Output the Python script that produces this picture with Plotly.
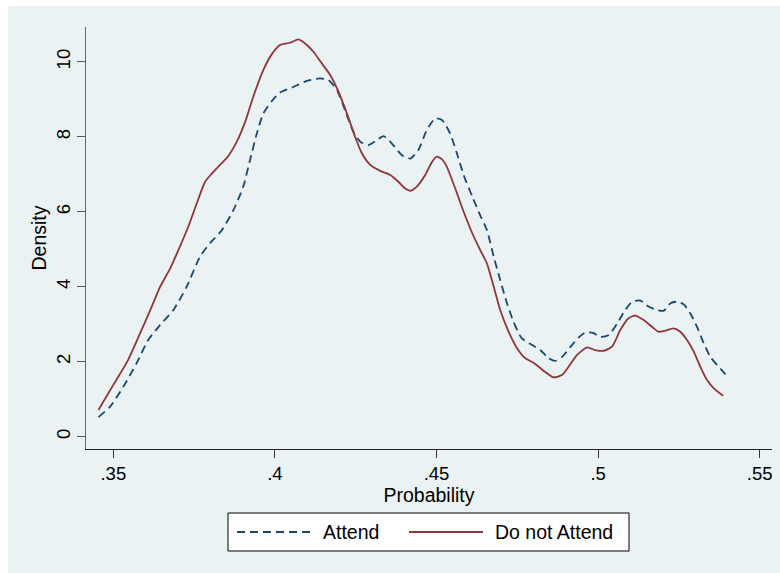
import plotly.graph_objects as go

# ---- data ----
attend_x = [0.3454, 0.3490, 0.3531, 0.3572, 0.3608, 0.3645, 0.3686, 0.3727, 0.3768, 0.3799,
            0.3836, 0.3872, 0.3902, 0.3923, 0.3944, 0.3964, 0.3990, 0.4016, 0.4057, 0.4099,
            0.4140, 0.4166, 0.4192, 0.4217, 0.4243, 0.4264, 0.4289, 0.4315, 0.4336, 0.4362,
            0.4393, 0.4419, 0.4444, 0.4470, 0.4496, 0.4517, 0.4542, 0.4563, 0.4584, 0.4611,
            0.4635, 0.4656, 0.4677, 0.4697, 0.4718, 0.4738, 0.4764, 0.4795, 0.4821, 0.4847,
            0.4868, 0.4889, 0.4915, 0.4940, 0.4961, 0.4986, 0.5007, 0.5033, 0.5059, 0.5084,
            0.5105, 0.5131, 0.5156, 0.5182, 0.5203, 0.5224, 0.5244, 0.5265, 0.5285, 0.5306,
            0.5327, 0.5347, 0.5368, 0.5399]
attend_y = [0.52, 0.80, 1.33, 1.96, 2.58, 2.98, 3.38, 4.00, 4.80, 5.16,
            5.51, 6.05, 6.67, 7.38, 8.09, 8.62, 8.95, 9.18, 9.33, 9.49,
            9.56, 9.51, 9.25, 8.71, 8.13, 7.87, 7.78, 7.91, 8.02, 7.82,
            7.51, 7.42, 7.65, 8.18, 8.49, 8.45, 8.09, 7.56, 6.98, 6.40,
            5.91, 5.51, 4.80, 4.18, 3.56, 3.07, 2.62, 2.45, 2.31, 2.09,
            2.02, 2.13, 2.40, 2.65, 2.78, 2.76, 2.66, 2.71, 3.02, 3.38,
            3.60, 3.63, 3.47, 3.38, 3.36, 3.56, 3.60, 3.53, 3.29, 2.93,
            2.49, 2.13, 1.91, 1.62]

notattend_x = [0.3454, 0.3500, 0.3546, 0.3583, 0.3619, 0.3645, 0.3676, 0.3706, 0.3732, 0.3758,
               0.3784, 0.3805, 0.3830, 0.3856, 0.3882, 0.3908, 0.3933, 0.3964, 0.3990, 0.4016,
               0.4047, 0.4073, 0.4099, 0.4119, 0.4145, 0.4171, 0.4197, 0.4223, 0.4248, 0.4269,
               0.4295, 0.4326, 0.4357, 0.4382, 0.4403, 0.4419, 0.4439, 0.4465, 0.4486, 0.4501,
               0.4517, 0.4532, 0.4558, 0.4584, 0.4611, 0.4635, 0.4656, 0.4677, 0.4697, 0.4723,
               0.4749, 0.4775, 0.4800, 0.4831, 0.4862, 0.4889, 0.4909, 0.4935, 0.4966, 0.4991,
               0.5017, 0.5043, 0.5069, 0.5094, 0.5115, 0.5141, 0.5167, 0.5187, 0.5208, 0.5234,
               0.5254, 0.5275, 0.5296, 0.5316, 0.5337, 0.5358, 0.5387]
notattend_y = [0.71, 1.38, 2.05, 2.76, 3.47, 4.00, 4.49, 5.07, 5.60, 6.22,
               6.80, 7.02, 7.25, 7.49, 7.87, 8.40, 9.07, 9.78, 10.20, 10.45,
               10.51, 10.60, 10.45, 10.27, 9.96, 9.65, 9.20, 8.62, 8.00, 7.56,
               7.25, 7.09, 6.98, 6.80, 6.62, 6.56, 6.67, 6.98, 7.33, 7.47,
               7.40, 7.20, 6.62, 6.00, 5.42, 4.98, 4.62, 4.00, 3.38, 2.80,
               2.36, 2.09, 1.97, 1.76, 1.58, 1.65, 1.87, 2.18, 2.38, 2.31,
               2.29, 2.40, 2.85, 3.16, 3.23, 3.11, 2.93, 2.80, 2.83, 2.89,
               2.80, 2.58, 2.27, 1.87, 1.51, 1.29, 1.09]

x_ticks = [0.35, 0.40, 0.45, 0.50, 0.55]
x_tick_text = [".35", ".4", ".45", ".5", ".55"]
y_ticks = [0, 2, 4, 6, 8, 10]
y_tick_text = ["0", "2", "4", "6", "8", "10"]

series_names = ["Attend", "Do not Attend"]

NAVY = "#1A476F"
MAROON = "#90353B"
BG = "#EAF2F3"
FONT = "Liberation Sans, Arial, sans-serif"

fig = go.Figure()
fig.add_trace(go.Scatter(x=attend_x, y=attend_y, mode="lines", name=series_names[0],
                         line=dict(color=NAVY, width=1.8, dash="8px,5px", shape="spline", smoothing=0.6),
                         showlegend=False))
fig.add_trace(go.Scatter(x=notattend_x, y=notattend_y, mode="lines", name=series_names[1],
                         line=dict(color=MAROON, width=1.8, shape="spline", smoothing=0.6),
                         showlegend=False))

# plot area geometry (pixels) for layout helpers
L, R, T, B = 86, 772, 27, 449
W, H = 780, 573
pw, ph = R - L, B - T


def px_x(p):
    return (p - L) / pw


def px_y(p):
    return (B - p) / ph


shapes = [
    # graph region background
    dict(type="rect", xref="paper", yref="paper", x0=px_x(8), x1=px_x(W), y0=px_y(H), y1=px_y(6),
         fillcolor=BG, line=dict(width=0), layer="below"),
    # legend box
    dict(type="rect", xref="paper", yref="paper", x0=px_x(228), x1=px_x(629), y0=px_y(551), y1=px_y(513),
         fillcolor="white", line=dict(color="black", width=1)),
    # legend samples
    dict(type="line", xref="paper", yref="paper", x0=px_x(237), x1=px_x(311), y0=px_y(532), y1=px_y(532),
         line=dict(color=NAVY, width=1.8, dash="8px,5px")),
    dict(type="line", xref="paper", yref="paper", x0=px_x(409), x1=px_x(483), y0=px_y(532), y1=px_y(532),
         line=dict(color=MAROON, width=1.8)),
]

annotations = [
    dict(text=series_names[0], xref="paper", yref="paper", x=px_x(321), y=px_y(532), xanchor="left",
         yanchor="middle", showarrow=False, font=dict(size=19.5, color="black", family=FONT)),
    dict(text=series_names[1], xref="paper", yref="paper", x=px_x(493), y=px_y(532), xanchor="left",
         yanchor="middle", showarrow=False, font=dict(size=19.5, color="black", family=FONT)),
]

fig.update_layout(
    width=W, height=H,
    margin=dict(l=L, r=W - R, t=T, b=H - B, autoexpand=False),
    paper_bgcolor="white",
    plot_bgcolor="white",
    font=dict(family=FONT, color="black"),
    shapes=shapes,
    annotations=annotations,
    showlegend=False,
)

fig.update_xaxes(
    range=[0.34155, 0.5538],
    automargin=False,
    tickvals=x_ticks, ticktext=x_tick_text,
    ticks="outside", ticklen=8, tickwidth=1, tickcolor="#333",
    showline=True, linecolor="#222", linewidth=1,
    showgrid=False, zeroline=False,
    tickfont=dict(size=18.5, family=FONT, color="black"),
    title=dict(text="Probability", font=dict(size=19.5, family=FONT, color="black"), standoff=0),
)
fig.update_yaxes(
    range=[-0.33, 10.93],
    automargin=False,
    tickvals=y_ticks, ticktext=y_tick_text,
    ticks="outside", ticklen=8, tickwidth=1, tickcolor="#555",
    showline=True, linecolor="#666", linewidth=1,
    showgrid=True, gridcolor=BG, gridwidth=1.5,
    zeroline=False,
    tickangle=-90,
    tickfont=dict(size=18.5, family=FONT, color="black"),
    title=dict(text="Density", font=dict(size=19.5, family=FONT, color="black"), standoff=0),
)

fig.write_html("out.html", config={"displayModeBar": False},
               post_script="document.body.style.margin='0';document.body.style.padding='0';")
